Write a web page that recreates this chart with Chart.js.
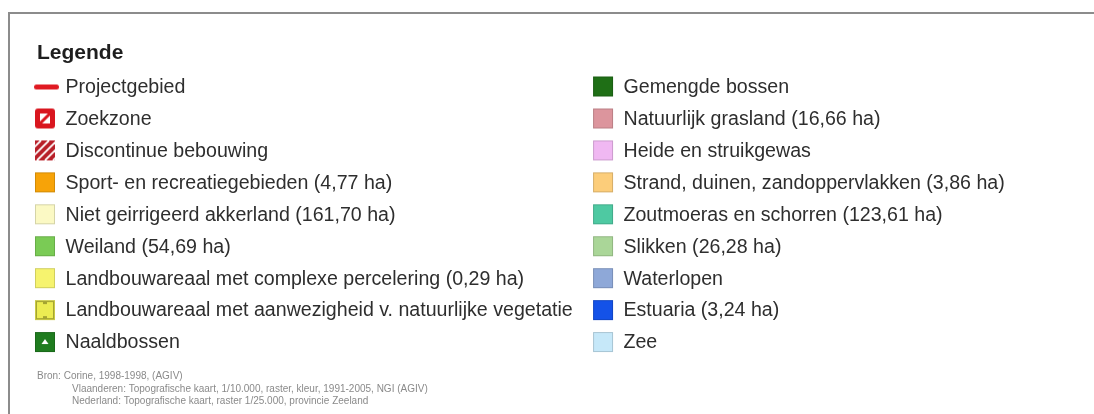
<!DOCTYPE html>
<html>
<head>
<meta charset="utf-8">
<script src="https://cdn.jsdelivr.net/npm/chart.js@4.4.1/dist/chart.umd.min.js"></script>
<style>
    html, body { margin: 0; padding: 0; background: #fff; }
    canvas { display: block; }
</style>
</head>
<body>
<canvas id="legendChart" width="1094" height="414"></canvas>
<script>
// Legend entries, left column
const leftNames = [
    'Projectgebied',
    'Zoekzone',
    'Discontinue bebouwing',
    'Sport- en recreatiegebieden',
    'Niet geirrigeerd akkerland',
    'Weiland',
    'Landbouwareaal met complexe percelering',
    'Landbouwareaal met aanwezigheid v. natuurlijke vegetatie',
    'Naaldbossen'
];
const leftAreas = [null, null, null, 4.77, 161.70, 54.69, 0.29, null, null];
const leftKinds = ['line', 'zoek', 'hatch', 'solid', 'solid', 'solid', 'solid', 'landveg', 'naald'];
const leftColors = ['#e01a22', '#d9161f', '#b81e28', '#f7a308', '#fbf9c4', '#7acb55', '#f6f36e', '#ecec52', '#1f7c1f'];

// Legend entries, right column
const rightNames = [
    'Gemengde bossen',
    'Natuurlijk grasland',
    'Heide en struikgewas',
    'Strand, duinen, zandoppervlakken',
    'Zoutmoeras en schorren',
    'Slikken',
    'Waterlopen',
    'Estuaria',
    'Zee'
];
const rightAreas = [null, 16.66, null, 3.86, 123.61, 26.28, null, 3.24, null];
const rightColors = ['#1f6f16', '#dc959d', '#f0b8f2', '#fccd7a', '#4ec9a2', '#aad698', '#8ea8d8', '#1452e8', '#c6e8f9'];

const sourceLines = [
    'Bron: Corine, 1998-1998, (AGIV)',
    'Vlaanderen: Topografische kaart, 1/10.000, raster, kleur, 1991-2005, NGI (AGIV)',
    'Nederland: Topografische kaart, raster 1/25.000, provincie Zeeland'
];

const FONT = '"Liberation Sans", Arial, sans-serif';

function formatArea(v) {
    return v.toFixed(2).replace('.', ',');
}

function buildLabel(name, area) {
    return area === null ? name : name + ' (' + formatArea(area) + ' ha)';
}

function shade(hex, f) {
    const n = parseInt(hex.slice(1), 16);
    const r = Math.round(((n >> 16) & 255) * f);
    const g = Math.round(((n >> 8) & 255) * f);
    const b = Math.round((n & 255) * f);
    return 'rgb(' + r + ',' + g + ',' + b + ')';
}

/**
 * Petite image utilisée comme pointStyle
 */
function makeSwatch(kind, color) {
    const c = document.createElement('canvas');
    c.width = 30;
    c.height = 22;
    const ctx = c.getContext('2d');
    // square occupies x 5..25, y 1..21 (center 15,11)
    const x0 = 5, y0 = 1, s = 20;

    if (kind === 'line') {
        ctx.strokeStyle = color;
        ctx.lineWidth = 5;
        ctx.lineCap = 'round';
        ctx.beginPath();
        ctx.moveTo(6.5, 11.5);
        ctx.lineTo(26.5, 11.5);
        ctx.stroke();
        return c;
    }

    ctx.fillStyle = color;
    ctx.beginPath();
    if (kind === 'zoek') {
        ctx.roundRect(x0, y0, s, s, 3);
    } else {
        ctx.rect(x0, y0, s, s);
    }
    ctx.fill();

    if (kind === 'zoek') {
        ctx.fillStyle = '#fff';
        ctx.fillRect(x0 + 5, y0 + 5, s - 10, s - 10);
        ctx.strokeStyle = color;
        ctx.lineWidth = 3;
        ctx.beginPath();
        ctx.moveTo(x0 + s - 4, y0 + 4);
        ctx.lineTo(x0 + 4, y0 + s - 4);
        ctx.stroke();
    } else if (kind === 'hatch') {
        ctx.save();
        ctx.beginPath();
        ctx.rect(x0, y0, s, s);
        ctx.clip();
        ctx.strokeStyle = '#fff';
        ctx.lineWidth = 1.8;
        for (let k = -14; k <= 26; k += 8) {
            ctx.beginPath();
            ctx.moveTo(x0 + k + s, y0);
            ctx.lineTo(x0 + k, y0 + s);
            ctx.stroke();
        }
        ctx.restore();
    } else if (kind === 'landveg') {
        ctx.strokeStyle = '#a5a532';
        ctx.lineWidth = 2;
        ctx.strokeRect(x0 + 1, y0 + 1, s - 2, s - 2);
        ctx.fillStyle = '#a5a532';
        ctx.fillRect(x0 + 8, y0, 4, 4);
        ctx.fillRect(x0 + 8, y0 + s - 4, 4, 4);
    } else if (kind === 'naald') {
        ctx.fillStyle = '#fff';
        ctx.beginPath();
        ctx.moveTo(x0 + 10, y0 + 7);
        ctx.lineTo(x0 + 13.5, y0 + 12);
        ctx.lineTo(x0 + 6.5, y0 + 12);
        ctx.closePath();
        ctx.fill();
    }

    if (kind === 'solid' || kind === 'landveg' || kind === 'naald') {
        ctx.strokeStyle = shade(color, 0.85);
        ctx.lineWidth = 1;
        ctx.strokeRect(x0 + 0.5, y0 + 0.5, s - 1, s - 1);
    }
    return c;
}

function columnData(col, names) {
    return names.map((n, i) => ({ x: col, y: i }));
}

const leftLabels = leftNames.map((n, i) => buildLabel(n, leftAreas[i]));
const rightLabels = rightNames.map((n, i) => buildLabel(n, rightAreas[i]));

const frameAndText = {
    id: 'frameAndText',
    beforeDraw(chart) {
        const ctx = chart.ctx;
        ctx.save();
        ctx.fillStyle = '#fff';
        ctx.fillRect(0, 0, chart.width, chart.height);
        ctx.strokeStyle = '#8c8c8c';
        ctx.lineWidth = 2;
        ctx.beginPath();
        ctx.moveTo(9, chart.height + 2);
        ctx.lineTo(9, 13);
        ctx.lineTo(chart.width + 2, 13);
        ctx.stroke();
        ctx.restore();
    },
    afterDatasetsDraw(chart) {
        const ctx = chart.ctx;
        ctx.save();
        ctx.textBaseline = 'middle';
        ctx.fillStyle = '#2e2e2e';
        ctx.font = '19.6px ' + FONT;
        chart.data.datasets.forEach((ds, di) => {
            const meta = chart.getDatasetMeta(di);
            meta.data.forEach((pt, i) => {
                ctx.fillText(ds.itemLabels[i], pt.x + 20.5, pt.y + 1);
            });
        });

        ctx.font = 'bold 21px ' + FONT;
        ctx.fillStyle = '#1e1e1e';
        ctx.fillText('Legende', 37, 53);

        ctx.font = '10px ' + FONT;
        ctx.fillStyle = '#8a8a8a';
        ctx.fillText(sourceLines[0], 37, 376);
        ctx.fillText(sourceLines[1], 72, 389);
        ctx.fillText(sourceLines[2], 72, 401);
        ctx.restore();
    }
};

new Chart(document.getElementById('legendChart'), {
    type: 'scatter',
    data: {
        datasets: [
            {
                label: 'links',
                data: columnData(0, leftNames),
                itemLabels: leftLabels,
                pointStyle: leftKinds.map((k, i) => makeSwatch(k, leftColors[i]))
            },
            {
                label: 'rechts',
                data: columnData(1, rightNames),
                itemLabels: rightLabels,
                pointStyle: rightNames.map((n, i) => makeSwatch('solid', rightColors[i]))
            }
        ]
    },
    options: {
        responsive: false,
        animation: false,
        layout: { padding: 0, autoPadding: false },
        plugins: {
            legend: { display: false },
            tooltip: { enabled: false }
        },
        scales: {
            x: { type: 'linear', display: false, min: -0.080645, max: 1.879928 },
            y: { type: 'linear', display: false, reverse: true, min: -2.70820, max: 10.25360 }
        }
    },
    plugins: [frameAndText]
});
</script>
</body>
</html>
